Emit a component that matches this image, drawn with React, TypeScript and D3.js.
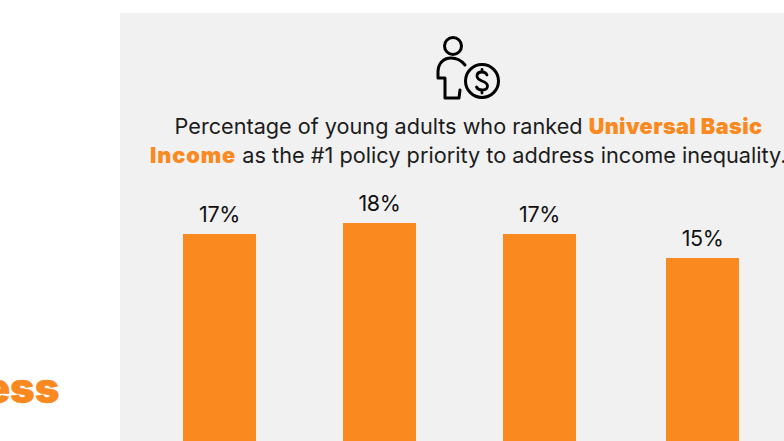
import React from "react";
import * as d3 from "d3";

const categories = ["Group A", "Group B", "Group C", "Group D"];
const shares = [17, 18, 17, 15];
const promptBefore = "Percentage of young adults who ranked ";
const promptAccent = "Universal Basic";
const promptAccent2 = "Income";
const promptAfter = " as the #1 policy priority to address income inequality.";
const clippedHeadline = "ess";

const ORANGE = "#fa8920";
const INK = "#1c1c1c";
const FONT = "Inter, 'Noto Sans', sans-serif";

// Column centres are slightly uneven in this layout, hence an ordinal scale.
const xCentre = d3.scaleOrdinal<string, number>().domain(categories).range([219.5, 379.5, 539.5, 702.5]);
const y = d3.scaleLinear().domain([15, 18]).range([258, 223]);
const BAR_WIDTH = 73;
const PAGE_BOTTOM = 441;

function PersonCoinIcon() {
  return (
    <g fill="none" stroke="#000" strokeWidth={3} strokeLinecap="round" strokeLinejoin="round">
      <circle cx={453} cy={46} r={8.5} />
      <path d="M465 65 C461 60 456 58 451 58 C443 58 438 64 438 72 V78 H445 V98 H459 L460 90" />
      <circle cx={482} cy={81} r={16.5} />
      <path d="M487 75 C486 72.500 484 72 482 72 C478.500 72 477 74 477 76 C477 79 479.500 80 482 81 C485 82 487.500 83 487.500 86 C487.500 89 485 90 482 90 C479.500 90 477.500 89 476.500 87 M482 69.500 V72 M482 90 V93" strokeWidth={2.8} />
    </g>
  );
}

export default function App() {
  return (
    <svg width={784} height={441} style={{ position: "absolute", left: 0, top: 0, background: "#fff" }} fontFamily={FONT}>
      <rect x={120} y={13} width={664} height={428} fill="#f1f1f1" />
      <text x={59.500} y={403} textAnchor="end" fontSize={42} fontWeight={900} fill={ORANGE} stroke={ORANGE} strokeWidth={0.4}>{clippedHeadline}</text>
      <PersonCoinIcon />
      <text x={468.500} y={134} textAnchor="middle" fontSize={21.65} fill={INK}>
        {promptBefore}
        <tspan fontWeight={900} fill={ORANGE} letterSpacing={0.4}>{promptAccent}</tspan>
      </text>
      <text x={150} y={163} fontSize={21.72} fill={INK}>
        <tspan fontWeight={900} fill={ORANGE} letterSpacing={0.9}>{promptAccent2}</tspan>
        {promptAfter}
      </text>
      {categories.map((c, i) => {
        const cx = xCentre(c);
        const top = Math.floor(y(shares[i]));
        return (
          <g key={c}>
            <rect x={cx - BAR_WIDTH / 2} y={top} width={BAR_WIDTH} height={PAGE_BOTTOM - top} fill={ORANGE} />
            <text x={cx} y={top - 12} textAnchor="middle" fontSize={21.500} letterSpacing={-0.4} fill="#111">{shares[i]}%</text>
          </g>
        );
      })}
    </svg>
  );
}
